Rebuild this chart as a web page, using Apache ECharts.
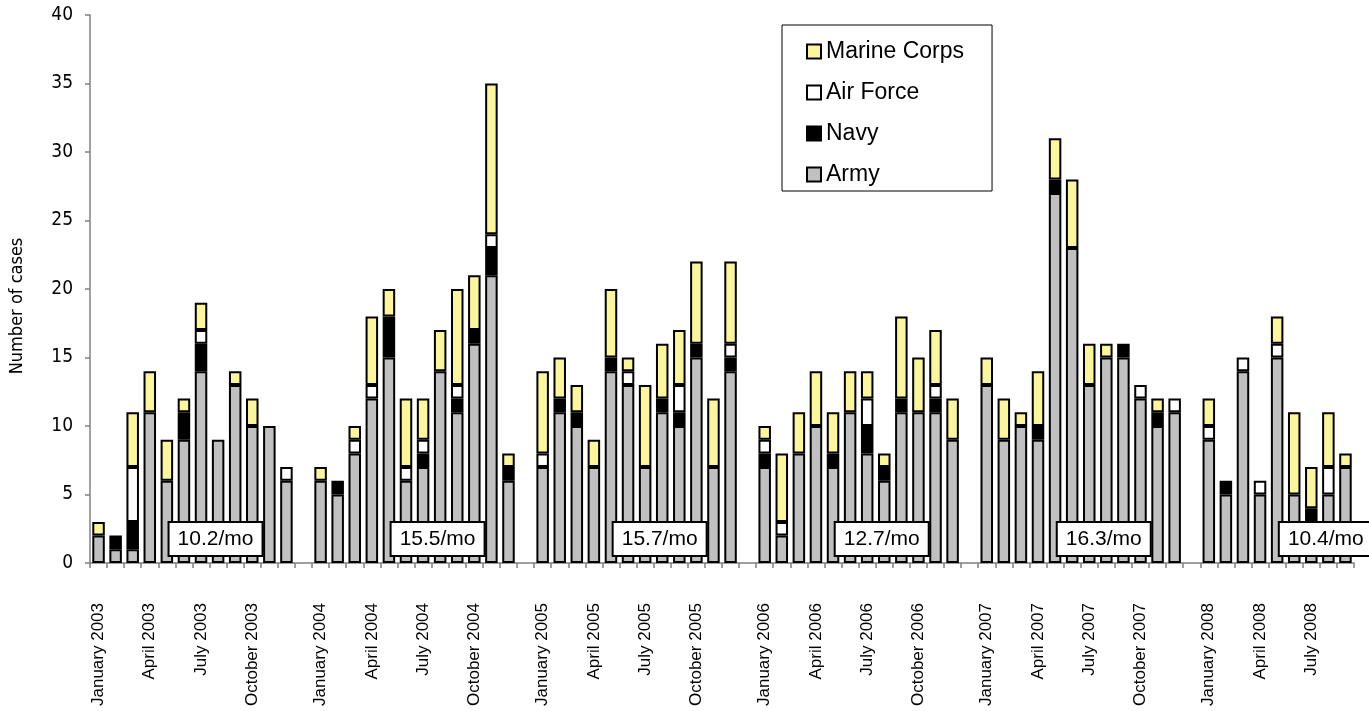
<!DOCTYPE html>
<html>
<head>
<meta charset="utf-8">
<script src="https://cdn.jsdelivr.net/npm/echarts@6/dist/echarts.min.js"></script>
<style>
  html, body { margin: 0; padding: 0; background: #fff; }
  #chart { width: 1369px; height: 711px; }
</style>
</head>
<body>
<div id="chart"></div>
<script>
// Years shown, month names and which months get a label on the axis
var years = [2003, 2004, 2005, 2006, 2007, 2008];
var monthNames = ['January', 'February', 'March', 'April', 'May', 'June',
                  'July', 'August', 'September', 'October', 'November', 'December'];
var labelMonths = ['January', 'April', 'July', 'October'];

// Monthly cases per branch, January 2003 .. September 2008 (one row per year)
var army = [
    2, 1, 1, 11, 6, 9, 14, 9, 13, 10, 10, 6,
    6, 5, 8, 12, 15, 6, 7, 14, 11, 16, 21, 6,
    7, 11, 10, 7, 14, 13, 7, 11, 10, 15, 7, 14,
    7, 2, 8, 10, 7, 11, 8, 6, 11, 11, 11, 9,
    13, 9, 10, 9, 27, 23, 13, 15, 15, 12, 10, 11,
    9, 5, 14, 5, 15, 5, 3, 5, 7
];
var navy = [
    0, 1, 2, 0, 0, 2, 2, 0, 0, 0, 0, 0,
    0, 1, 0, 0, 3, 0, 1, 0, 1, 1, 2, 1,
    0, 1, 1, 0, 1, 0, 0, 1, 1, 1, 0, 1,
    1, 0, 0, 0, 1, 0, 2, 1, 1, 0, 1, 0,
    0, 0, 0, 1, 1, 0, 0, 0, 1, 0, 1, 0,
    0, 1, 0, 0, 0, 0, 1, 0, 0
];
var airForce = [
    0, 0, 4, 0, 0, 0, 1, 0, 0, 0, 0, 1,
    0, 0, 1, 1, 0, 1, 1, 0, 1, 0, 1, 0,
    1, 0, 0, 0, 0, 1, 0, 0, 2, 0, 0, 1,
    1, 1, 0, 0, 0, 0, 2, 0, 0, 0, 1, 0,
    0, 0, 0, 0, 0, 0, 0, 0, 0, 1, 0, 1,
    1, 0, 1, 1, 1, 0, 0, 2, 0
];
var marineCorps = [
    1, 0, 4, 3, 3, 1, 2, 0, 1, 2, 0, 0,
    1, 0, 1, 5, 2, 5, 3, 3, 7, 4, 11, 1,
    6, 3, 2, 2, 5, 1, 6, 4, 4, 6, 5, 6,
    1, 5, 3, 4, 3, 3, 2, 1, 6, 4, 4, 3,
    2, 3, 1, 4, 3, 5, 3, 1, 0, 0, 1, 0,
    2, 0, 0, 0, 2, 6, 3, 4, 1
];

// Monthly average for each year (boxed labels)
var rateLabels = ['10.2/mo', '15.5/mo', '15.7/mo', '12.7/mo', '16.3/mo', '10.4/mo'];

var chart = echarts.init(document.getElementById('chart'));

// one empty slot between years
var categories = [];
years.forEach(function (y, k) {
    var n = Math.min(12, army.length - k * 12);
    for (var m = 0; m < n; m++)
        categories.push(monthNames[m] + ' ' + y);
    if (k < years.length - 1)
        categories.push('gap ' + y);
});

// insert the empty slot after each year; zero segments are not drawn
function withGaps(arr) {
    var out = [];
    years.forEach(function (y, k) {
        out = out.concat(arr.slice(k * 12, k * 12 + 12).map(function (v) { return v === 0 ? null : v; }));
        if (k < years.length - 1)
            out.push(null);
    });
    return out;
}

function barSeries(name, values, color) {
    return {
        name: name,
        type: 'bar',
        stack: 'cases',
        barWidth: 12.5,
        itemStyle: { color: color, borderColor: '#000', borderWidth: 2 },
        data: withGaps(values)
    };
}

var axisGray = '#808080';
var narrow = '"Liberation Sans Narrow", "DejaVu Sans Condensed", "Liberation Sans", sans-serif';

option = {
    animation: false,
    grid: { left: 90, right: 15, top: 15, bottom: 148, outerBoundsMode: 'none' },
    legend: {
        data: ['Marine Corps', 'Air Force', 'Navy', 'Army'],
        orient: 'vertical',
        left: 782,
        top: 25,
        padding: [15, 28, 5, 24],
        itemWidth: 14,
        itemHeight: 14,
        itemGap: 18,
        icon: 'rect',
        borderColor: '#000',
        borderWidth: 1,
        backgroundColor: '#fff',
        textStyle: { fontFamily: 'Liberation Sans', fontSize: 23, color: '#000' }
    },
    xAxis: {
        type: 'category',
        data: categories,
        boundaryGap: true,
        axisLine: { lineStyle: { color: axisGray, width: 1.5 } },
        axisTick: { show: true, interval: 0, length: 5, lineStyle: { color: axisGray, width: 1.5 } },
        axisLabel: {
            interval: function (i, v) { return labelMonths.indexOf(v.split(' ')[0]) >= 0; },
            rotate: 90,
            margin: 40,
            fontFamily: 'Liberation Sans',
            fontSize: 17,
            color: '#000'
        }
    },
    yAxis: {
        type: 'value',
        min: 0,
        max: 40,
        interval: 5,
        name: 'Number of cases',
        nameLocation: 'middle',
        nameGap: 64,
        nameRotate: 90,
        nameTextStyle: {
            fontFamily: narrow,
            fontSize: 18,
            color: '#000',
            padding: [0, 34, 0, 0]
        },
        axisLine: { show: true, lineStyle: { color: axisGray, width: 1.5 } },
        axisTick: { show: true, length: 5, lineStyle: { color: axisGray, width: 1.5 } },
        splitLine: { show: false },
        axisLabel: {
            margin: 17,
            fontFamily: narrow,
            fontSize: 19,
            color: '#000'
        }
    },
    series: [
        barSeries('Army', army, '#c0c0c0'),
        barSeries('Navy', navy, '#000000'),
        barSeries('Air Force', airForce, '#ffffff'),
        barSeries('Marine Corps', marineCorps, '#fbf59c')
    ]
};
chart.setOption(option);

// boxed monthly rates, placed between July and August of each year
function slotPixel(pos) {
    var i = Math.floor(pos), f = pos - i;
    var a = chart.convertToPixel({ xAxisIndex: 0 }, i);
    var b = chart.convertToPixel({ xAxisIndex: 0 }, i + 1);
    return a + (b - a) * f;
}
var boxes = [];
rateLabels.forEach(function (txt, k) {
    var cx = slotPixel(k * 13 + 6.85);
    var cy = chart.convertToPixel({ yAxisIndex: 0 }, 1.75);
    boxes.push({
        type: 'rect', z: 100,
        shape: { x: cx - 47, y: cy - 17, width: 94, height: 34 },
        style: { fill: '#fff', stroke: '#000', lineWidth: 2 }
    });
    boxes.push({
        type: 'text', z: 101, x: cx, y: cy,
        style: {
            text: txt, fill: '#000', align: 'center', verticalAlign: 'middle',
            font: '21px "Liberation Sans"'
        }
    });
});
chart.setOption({ graphic: boxes });
</script>
</body>
</html>
